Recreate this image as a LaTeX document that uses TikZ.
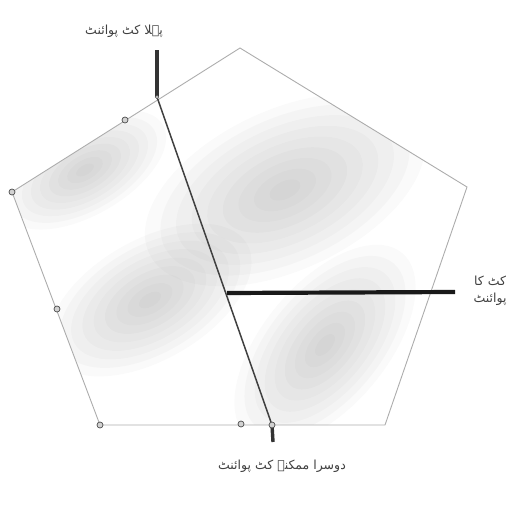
\documentclass[tikz,border=0pt]{standalone}
\usepackage{fontspec}
\TeXXeTstate=1
\newfontfamily\urdufont[Script=Arabic]{DejaVu Sans}
\begin{document}
\begin{tikzpicture}[x=1pt,y=-1pt,
  edge/.style={draw=gray!65, line width=0.9pt},
  vtx/.style={circle, draw=black!70, fill=gray!35, line width=0.7pt, inner sep=0pt, minimum size=6pt},
  cutline/.style={draw=black!75, line width=1.5pt},
  stub/.style={draw=black!80, line width=3.4pt},
  blobring/.style={fill=gray, fill opacity=0.045},
  lbl/.style={font=\urdufont\fontsize{12.5}{17}\selectfont, text=black!75, align=center, inner sep=1pt}
]
\useasboundingbox (0,0) rectangle (524,506);
% pentagon corners
\coordinate (T) at (240,48);
\coordinate (R) at (467,187);
\coordinate (BR) at (385,425);
\coordinate (BL) at (100,425);
\coordinate (L) at (12,192);
% stippled fill
\begin{scope}
  \clip (T) -- (R) -- (BR) -- (BL) -- (L) -- cycle;
  \foreach \cx/\cy/\rx/\ry/\ang in {285/190/150/80/25, 325/345/120/62/50, 85/170/90/45/30, 150/300/112/60/30}{
    \foreach \k in {1,...,9}{
      \fill[blobring] (\cx,\cy) ellipse [x radius={\rx*\k/9}, y radius={\ry*\k/9}, rotate=\ang];
    }
  }
\end{scope}
\draw[edge] (T) -- (R) -- (BR) -- (BL) -- (L) -- cycle;
% cut points
\coordinate (c1top) at (157,50);
\coordinate (c1) at (157,97);
\coordinate (c2) at (272,425);
\coordinate (c2bot) at (273,442);
\coordinate (hstart) at (227,293);
\coordinate (hend) at (455,292);
\draw[cutline] (c1) -- (c2);
\draw[stub] (c1top) -- (c1);
\draw[stub] (c2) -- (c2bot);
\draw[draw=black!90, line width=4.2pt] (hstart) -- (hend);
% boundary marks
\node[vtx] (m1) at (125,120) {};
\node[vtx] (m2) at (12,192) {};
\node[vtx] (m3) at (57,309) {};
\node[vtx] (m4) at (100,425) {};
\node[vtx] (m5) at (241,424) {};
\node[vtx] (m6) at (272,425) {};
\node[vtx, minimum size=3.5pt] (m7) at (157,97) {};
% labels
\node[lbl] (ltop) at (124,31) {\beginR پہلا کٹ پوائنٹ\endR};
\node[lbl] (lbot) at (282,466) {\beginR دوسرا ممکنہ کٹ پوائنٹ\endR};
\node[lbl] (lright) at (490,291) {\beginR کٹ کا\endR\\\beginR پوائنٹ\endR};
\end{tikzpicture}
\end{document}
